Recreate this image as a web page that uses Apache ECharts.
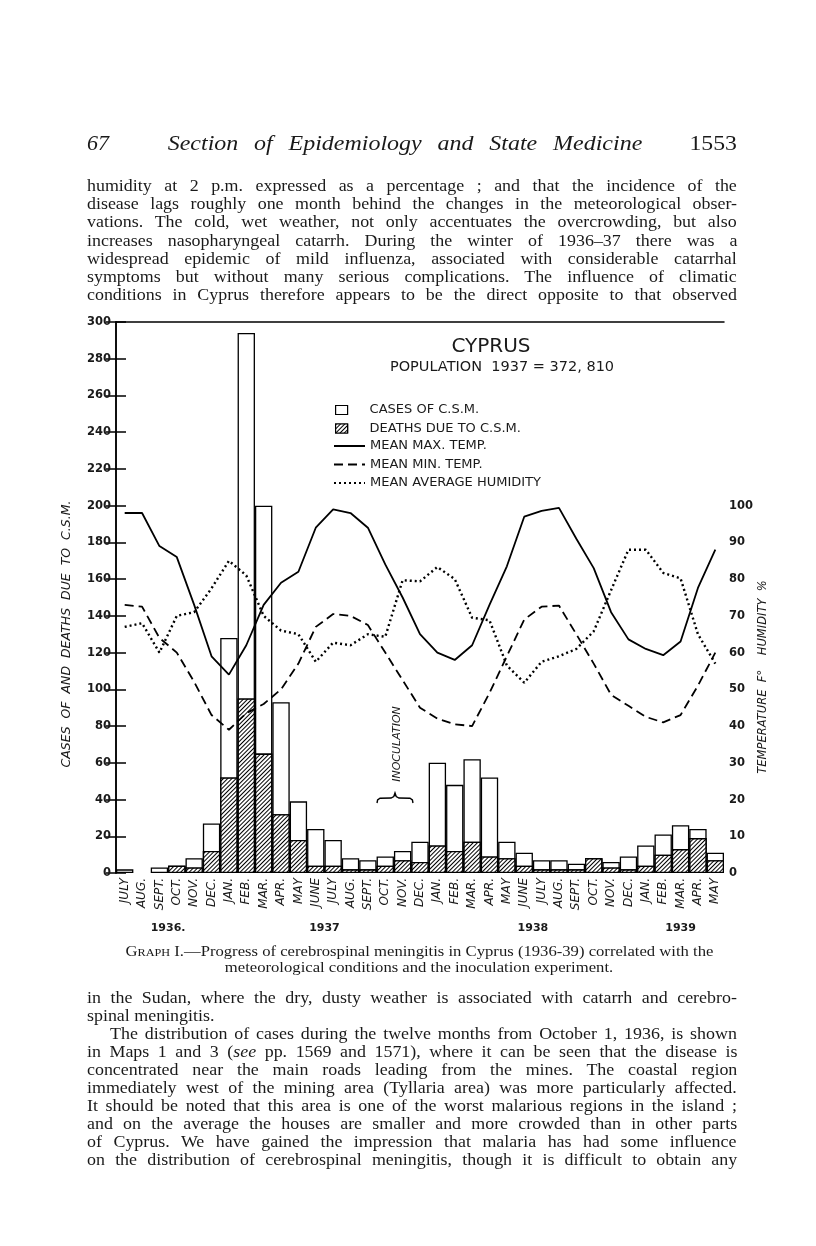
<!DOCTYPE html>
<html>
<head>
<meta charset="utf-8">
<script src="https://cdn.jsdelivr.net/npm/echarts@6/dist/echarts.min.js"></script>
<style>
  html, body { margin: 0; padding: 0; background: #fff; }
  #page { position: relative; width: 816px; height: 1246px; overflow: hidden; background: #fff; }
  #chart { position: absolute; left: 0; top: 0; width: 816px; height: 1246px; }
  .t { position: absolute; font-family: 'Liberation Serif', 'DejaVu Serif', serif; color: #1a1a1a; white-space: nowrap; }
  .line { position: absolute; left: 87px; font-family: 'Liberation Serif', serif; font-size: 16px; color: #1a1a1a;
          white-space: nowrap; line-height: 18px; transform-origin: 0 50%; }
  .sc { font-variant: small-caps; }
</style>
</head>
<body>
<div id="page">
  <div id="chart"></div>
  <div class="t" style="left:87px; top:130px; font-size:22px; font-style:italic;">67</div>
  <div class="t" style="left:105px; width:600px; text-align:center; top:130px; font-size:22px; font-style:italic; word-spacing:9px; transform:scaleX(1.09);">Section of Epidemiology and State Medicine</div>
  <div class="t" style="right:79px; top:130px; font-size:22px; transform:scaleX(1.08); transform-origin:100% 50%;">1553</div>
  <div id="top"></div>
  <div id="cap"></div>
  <div id="bottom"></div>
</div>
<script>
// ---------- data ----------
const months = ['JULY','AUG.','SEPT.','OCT.','NOV.','DEC.',
  'JAN.','FEB.','MAR.','APR.','MAY','JUNE','JULY','AUG.','SEPT.','OCT.','NOV.','DEC.',
  'JAN.','FEB.','MAR.','APR.','MAY','JUNE','JULY','AUG.','SEPT.','OCT.','NOV.','DEC.',
  'JAN.','FEB.','MAR.','APR.','MAY'];
const years = ['1936.', '1937', '1938', '1939'];
const monthsPerYear = [6, 12, 12, 5];
const cases = [2, null, 3, 4, 8, 27,
  128, 294, 200, 93, 39, 24, 18, 8, 7, 9, 12, 17,
  60, 48, 62, 52, 17, 11, 7, 7, 5, 8, 6, 9,
  15, 21, 26, 24, 11];
const deaths = [null, null, null, 4, 3, 12,
  52, 95, 65, 32, 18, 4, 4, 2, 2, 4, 7, 6,
  15, 12, 17, 9, 8, 4, 2, 2, 2, 8, 3, 2,
  4, 10, 13, 19, 7];
const maxTemp = [98, 98, 89, 86, 73, 59,
  54, 62, 73, 79, 82, 94, 99, 98, 94, 84, 75, 65,
  60, 58, 62, 73, 83.5, 97, 98.6, 99.4, 91, 83, 71, 63.6,
  61, 59.3, 63, 77.6, 88];
const minTemp = [73, 72.5, 64, 60, 52, 43,
  39, 43.5, 46, 50, 57, 67, 70.5, 70, 67.5, 60, 52.5, 45,
  42, 40.5, 40, 49, 59, 69, 72.5, 72.8, 65, 57, 48.5, 45.5,
  42.5, 41, 43, 51, 60];
const humidity = [67, 68, 60, 70, 71, 77.5,
  85, 81, 70, 66, 65, 57.5, 62.7, 62, 65, 64.3, 79.7, 79.4,
  83.3, 80, 69.5, 68.8, 56.5, 51.8, 57.5, 59, 61, 65.8, 77, 88,
  88, 81.7, 80.2, 65, 57];
const leftTicks = [0, 300, 20];    // min, max, step (cases / deaths)
const rightTicks = [0, 150, 10];   // min, max, step (temperature / humidity)
const rightLabelMax = 100;
const seriesNames = ['CASES OF C.S.M.', 'DEATHS DUE TO C.S.M.', 'MEAN MAX. TEMP.', 'MEAN MIN. TEMP.', 'MEAN AVERAGE HUMIDITY'];

// ---------- page text ----------
const topLines = [
  'humidity at 2 p.m. expressed as a percentage ; and that the incidence of the',
  'disease lags roughly one month behind the changes in the meteorological obser-',
  'vations. The cold, wet weather, not only accentuates the overcrowding, but also',
  'increases nasopharyngeal catarrh. During the winter of 1936\u201337 there was a',
  'widespread epidemic of mild influenza, associated with considerable catarrhal',
  'symptoms but without many serious complications. The influence of climatic',
  'conditions in Cyprus therefore appears to be the direct opposite to that observed'
];
const bottomLines = [
  ['in the Sudan, where the dry, dusty weather is associated with catarrh and cerebro-', 0, true],
  ['spinal meningitis.', 0, false],
  ['The distribution of cases during the twelve months from October 1, 1936, is shown', 23, true],
  ['in Maps 1 and 3 (<i>see</i> pp. 1569 and 1571), where it can be seen that the disease is', 0, true],
  ['concentrated near the main roads leading from the mines. The coastal region', 0, true],
  ['immediately west of the mining area (Tyllaria area) was more particularly affected.', 0, true],
  ['It should be noted that this area is one of the worst malarious regions in the island ;', 0, true],
  ['and on the average the houses are smaller and more crowded than in other parts', 0, true],
  ['of Cyprus. We have gained the impression that malaria has had some influence', 0, true],
  ['on the distribution of cerebrospinal meningitis, though it is difficult to obtain any', 0, true]
];
const textWidth = 650;
const sx = 1.12;
function addLine(parent, html, center, indent, justify) {
  const d = document.createElement('div');
  d.className = 'line';
  d.style.top = (center - 9) + 'px';
  d.style.left = (87 + indent) + 'px';
  d.style.transform = 'scaleX(' + sx + ')';
  const s = document.createElement('span');
  s.innerHTML = html;
  d.appendChild(s);
  parent.appendChild(d);
  if (justify) {
    const w = s.offsetWidth;
    const n = (s.textContent.match(/ /g) || []).length;
    if (n > 0) s.style.wordSpacing = (((textWidth - indent) / sx - w) / n) + 'px';
  }
}
const topEl = document.getElementById('top');
topLines.forEach((l, i) => addLine(topEl, l, 186 + i * 18.2, 0, true));
const botEl = document.getElementById('bottom');
bottomLines.forEach((l, i) => addLine(botEl, l[0], 998 + i * 18.0, l[1], l[2]));
const capEl = document.getElementById('cap');
capEl.innerHTML =
  '<div class="t" style="left:0;width:839px;text-align:center;top:943px;font-size:15px;line-height:17px;transform:scaleX(1.11);transform-origin:419.5px 50%;"><span class="sc">Graph</span> I.\u2014Progress of cerebrospinal meningitis in Cyprus (1936-39) correlated with the</div>' +
  '<div class="t" style="left:0;width:838px;text-align:center;top:959px;font-size:15px;line-height:17px;transform:scaleX(1.11);transform-origin:419px 50%;">meteorological conditions and the inoculation experiment.</div>';

// ---------- chart ----------
const catIds = months.map((m, i) => m + '#' + i);
let acc = 0;
const yearMid = monthsPerYear.map(n => { const m = acc + n / 2; acc += n; return m; });

const ink = '#1a1a1a';
const sans = 'DejaVu Sans';
const chart = echarts.init(document.getElementById('chart'), null, { renderer: 'canvas' });
const hatch = {
  symbol: 'rect', symbolSize: 1,
  dashArrayX: [1, 0], dashArrayY: [1, 2],
  rotation: -Math.PI / 4, color: '#000', backgroundColor: '#fff'
};
chart.setOption({
  backgroundColor: '#fff',
  animation: false,
  title: [
    { text: 'CYPRUS', left: 486, top: 332, textAlign: 'center',
      textStyle: { fontFamily: sans, fontSize: 20, fontWeight: 'normal', color: ink } },
    { text: 'POPULATION  1937 = 372, 810', left: 497, top: 355, textAlign: 'center',
      textStyle: { fontFamily: sans, fontSize: 14.5, fontWeight: 'normal', color: ink } }
  ],
  legend: [
    { data: seriesNames.slice(0, 2), orient: 'vertical', left: 330, top: 398,
      itemWidth: 12, itemHeight: 9, itemGap: 4.5, selectedMode: false, icon: 'rect',
      itemStyle: { borderColor: '#000', borderWidth: 1.2 },
      textStyle: { fontFamily: sans, fontSize: 13, color: ink, lineHeight: 14, padding: [0, 0, 0, 17] } },
    { data: seriesNames.slice(2), orient: 'vertical', left: 328, top: 434,
      itemWidth: 31, itemHeight: 9, itemGap: 4.5, selectedMode: false,
      itemStyle: { color: 'rgba(0,0,0,0)', borderColor: 'rgba(0,0,0,0)', borderWidth: 0, opacity: 0 },
      textStyle: { fontFamily: sans, fontSize: 13, color: ink, lineHeight: 14, padding: [0, 0, 0, 0] } }
  ],
  grid: { left: 116, top: 322, width: 608, height: 551, containLabel: false },
  xAxis: [
    { type: 'category', data: catIds, boundaryGap: true,
      axisLine: { show: false }, axisTick: { show: false }, splitLine: { show: false },
      axisLabel: { interval: 0, rotate: 90, margin: 5, fontFamily: sans, fontStyle: 'italic',
        fontSize: 12, color: ink, formatter: v => v.split('#')[0] } },
    { type: 'value', min: 0, max: months.length, position: 'bottom',
      axisLine: { show: false }, axisTick: { show: false }, splitLine: { show: false },
      axisLabel: { customValues: yearMid, margin: 50, fontFamily: sans, fontSize: 11,
        fontWeight: 'bold', color: ink, formatter: v => years[yearMid.indexOf(v)] || '' } },
    { type: 'value', min: 0, max: 1, position: 'top',
      axisLine: { show: true, lineStyle: { color: '#000', width: 1.5 } },
      axisTick: { show: false }, axisLabel: { show: false }, splitLine: { show: false } }
  ],
  yAxis: [
    { type: 'value', min: leftTicks[0], max: leftTicks[1], interval: leftTicks[2], position: 'left',
      axisLine: { show: true, lineStyle: { color: '#000', width: 1.5 } },
      axisTick: { show: true, inside: true, length: 10, lineStyle: { color: '#000', width: 1.5 } },
      splitLine: { show: false },
      axisLabel: { margin: 5, fontFamily: sans, fontSize: 11.5, fontWeight: 'bold', color: ink } },
    { type: 'value', min: rightTicks[0], max: rightTicks[1], interval: rightTicks[2], position: 'right',
      axisLine: { show: true, lineStyle: { color: '#000', width: 1.5 } },
      axisTick: { show: true, inside: true, length: 10, lineStyle: { color: '#000', width: 1.5 } },
      splitLine: { show: false },
      axisLabel: { margin: 5, fontFamily: sans, fontSize: 11.5, fontWeight: 'bold', color: ink,
        formatter: v => (v <= rightLabelMax ? String(v) : '') } }
  ],
  series: [
    { name: seriesNames[0], type: 'bar', data: cases, barCategoryGap: '0%', barGap: '-100%',
      itemStyle: { color: '#fff', borderColor: '#000', borderWidth: 1.3 } },
    { name: seriesNames[1], type: 'bar', data: deaths, barCategoryGap: '0%', barGap: '-100%',
      itemStyle: { color: '#fff', borderColor: '#000', borderWidth: 1.3, decal: hatch } },
    { name: seriesNames[2], type: 'line', yAxisIndex: 1, data: maxTemp, symbol: 'none',
      lineStyle: { color: '#000', width: 1.8, type: 'solid' } },
    { name: seriesNames[3], type: 'line', yAxisIndex: 1, data: minTemp, symbol: 'none',
      lineStyle: { color: '#000', width: 1.8, type: [9, 5] } },
    { name: seriesNames[4], type: 'line', yAxisIndex: 1, data: humidity, symbol: 'none',
      lineStyle: { color: '#000', width: 2.4, type: [2, 3] } }
  ],
  graphic: [
    { type: 'text', x: 67, y: 634, rotation: Math.PI / 2,
      style: { text: 'CASES  OF  AND  DEATHS  DUE  TO  C.S.M.', font: 'italic 12.5px "DejaVu Sans"',
        fill: ink, align: 'center', verticalAlign: 'middle' } },
    { type: 'text', x: 763, y: 677, rotation: Math.PI / 2,
      style: { text: 'TEMPERATURE  F\u00B0    HUMIDITY  %', font: 'italic 11.5px "DejaVu Sans"',
        fill: ink, align: 'center', verticalAlign: 'middle' } },
    { type: 'text', x: 397, y: 744, rotation: Math.PI / 2,
      style: { text: 'INOCULATION', font: 'italic 11px "DejaVu Sans"',
        fill: ink, align: 'center', verticalAlign: 'middle' } },
    { type: 'polyline',
      shape: { points: [[377, 803], [377.6, 800], [380, 798.3], [391, 798], [393.8, 796.5], [395, 793],
                        [396.2, 796.5], [399, 798], [410, 798.3], [412.4, 800], [413, 803]] },
      style: { fill: 'none', stroke: '#000', lineWidth: 1.4 } }
  ]
});
</script>
</body>
</html>
